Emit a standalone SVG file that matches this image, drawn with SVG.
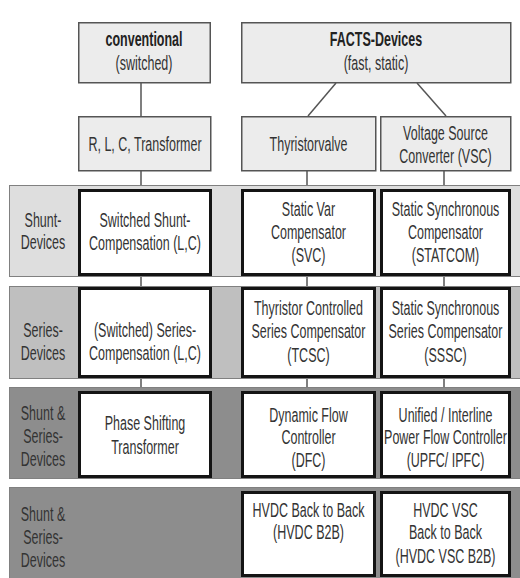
<svg xmlns="http://www.w3.org/2000/svg" width="520" height="578" viewBox="0 0 520 578">
<style>
text{font-family:"Liberation Sans",Arial,sans-serif;font-size:20.5px;fill:#333;text-anchor:middle}
.b{font-weight:bold;fill:#222}
.top{fill:#ececec;stroke:#555;stroke-width:1.5}
.dev{fill:#fff;stroke:#141414;stroke-width:3}
.band{stroke:#808080;stroke-width:1}
.ln{stroke:#555;stroke-width:1.5;fill:none}
</style>
<rect width="520" height="578" fill="#fff"/>
<g id="connectors">
<line class="ln" x1="141" y1="83" x2="141" y2="116"/>
<line class="ln" x1="336" y1="83" x2="308" y2="116"/>
<line class="ln" x1="417" y1="83" x2="446" y2="116"/>
<line class="ln" x1="141" y1="171" x2="141" y2="392"/>
<line class="ln" x1="307" y1="171" x2="307" y2="392"/>
<line class="ln" x1="444" y1="171" x2="444" y2="392"/>
</g>
<g id="bands">
<rect class="band" x="9.5" y="185.5" width="520" height="91" fill="#dedede"/>
<rect class="band" x="9.5" y="286.5" width="520" height="92" fill="#bfbfbf"/>
<rect class="band" x="9.5" y="387.5" width="520" height="91" fill="#8d8d8d"/>
<rect class="band" x="9.5" y="487.5" width="520" height="100" fill="#8d8d8d"/>
</g>
<g id="lbl-shunt" transform="translate(43 0) scale(0.61 1)"><text x="0" y="227">Shunt-</text><text x="0" y="249">Devices</text></g>
<g id="lbl-series" transform="translate(43 0) scale(0.61 1)"><text x="0" y="337">Series-</text><text x="0" y="360">Devices</text></g>
<g id="lbl-both1" transform="translate(43 0) scale(0.61 1)"><text x="0" y="420">Shunt &amp;</text><text x="0" y="443">Series-</text><text x="0" y="466">Devices</text></g>
<g id="lbl-both2" transform="translate(43 0) scale(0.61 1)"><text x="0" y="521">Shunt &amp;</text><text x="0" y="544">Series-</text><text x="0" y="567">Devices</text></g>

<g id="conventional"><rect class="top" x="78.75" y="22.75" width="131.5" height="60"/>
<g transform="translate(144 0) scale(0.61 1)"><text class="b" x="0" y="46">conventional</text><text x="0" y="70">(switched)</text></g></g>
<g id="facts"><rect class="top" x="241.75" y="22.75" width="269" height="60"/>
<g transform="translate(376 0) scale(0.61 1)"><text class="b" x="0" y="46">FACTS-Devices</text><text x="0" y="70">(fast, static)</text></g></g>
<g id="rlc"><rect class="top" x="78.75" y="116.75" width="132" height="54"/>
<g transform="translate(145 0) scale(0.61 1)"><text x="0" y="151">R, L, C, Transformer</text></g></g>
<g id="thyristor"><rect class="top" x="241.75" y="116.75" width="134" height="54"/>
<g transform="translate(308.5 0) scale(0.61 1)"><text x="0" y="151">Thyristorvalve</text></g></g>
<g id="vsc"><rect class="top" x="380.75" y="116.75" width="130" height="54"/>
<g transform="translate(445.5 0) scale(0.61 1)"><text x="0" y="140">Voltage Source</text><text x="0" y="163">Converter (VSC)</text></g></g>

<g id="switched-shunt"><rect class="dev" x="79.5" y="190.5" width="131" height="84"/>
<g transform="translate(145 0) scale(0.61 1)"><text x="0" y="227">Switched Shunt-</text><text x="0" y="250">Compensation (L,C)</text></g></g>
<g id="svc"><rect class="dev" x="242.5" y="190.5" width="132" height="84"/>
<g transform="translate(308.5 0) scale(0.61 1)"><text x="0" y="216">Static Var</text><text x="0" y="239">Compensator</text><text x="0" y="262">(SVC)</text></g></g>
<g id="statcom"><rect class="dev" x="381.5" y="190.5" width="128" height="84"/>
<g transform="translate(445.5 0) scale(0.61 1)"><text x="0" y="216">Static Synchronous</text><text x="0" y="239">Compensator</text><text x="0" y="262">(STATCOM)</text></g></g>

<g id="switched-series"><rect class="dev" x="79.5" y="288.5" width="131" height="88"/>
<g transform="translate(145 0) scale(0.61 1)"><text x="0" y="337">(Switched) Series-</text><text x="0" y="360">Compensation (L,C)</text></g></g>
<g id="tcsc"><rect class="dev" x="242.5" y="288.5" width="132" height="88"/>
<g transform="translate(308.5 0) scale(0.61 1)"><text x="0" y="315">Thyristor Controlled</text><text x="0" y="338">Series Compensator</text><text x="0" y="362">(TCSC)</text></g></g>
<g id="sssc"><rect class="dev" x="381.5" y="288.5" width="128" height="88"/>
<g transform="translate(445.5 0) scale(0.61 1)"><text x="0" y="315">Static Synchronous</text><text x="0" y="338">Series Compensator</text><text x="0" y="362">(SSSC)</text></g></g>

<g id="pst"><rect class="dev" x="79.5" y="392.5" width="131" height="84"/>
<g transform="translate(145 0) scale(0.61 1)"><text x="0" y="430">Phase Shifting</text><text x="0" y="454">Transformer</text></g></g>
<g id="dfc"><rect class="dev" x="242.5" y="392.5" width="132" height="84"/>
<g transform="translate(308.5 0) scale(0.61 1)"><text x="0" y="422">Dynamic Flow</text><text x="0" y="444">Controller</text><text x="0" y="467">(DFC)</text></g></g>
<g id="upfc"><rect class="dev" x="381.5" y="392.5" width="128" height="84"/>
<g transform="translate(445.5 0) scale(0.61 1)"><text x="0" y="422">Unified / Interline</text><text x="0" y="444">Power Flow Controller</text><text x="0" y="467">(UPFC/ IPFC)</text></g></g>

<g id="hvdc-b2b"><rect class="dev" x="242.5" y="492.5" width="132" height="83"/>
<g transform="translate(308.5 0) scale(0.61 1)"><text x="0" y="517">HVDC Back to Back</text><text x="0" y="539">(HVDC B2B)</text></g></g>
<g id="hvdc-vsc"><rect class="dev" x="381.5" y="492.5" width="128" height="83"/>
<g transform="translate(445.5 0) scale(0.61 1)"><text x="0" y="517">HVDC VSC</text><text x="0" y="539">Back to Back</text><text x="0" y="563">(HVDC VSC B2B)</text></g></g>
</svg>
